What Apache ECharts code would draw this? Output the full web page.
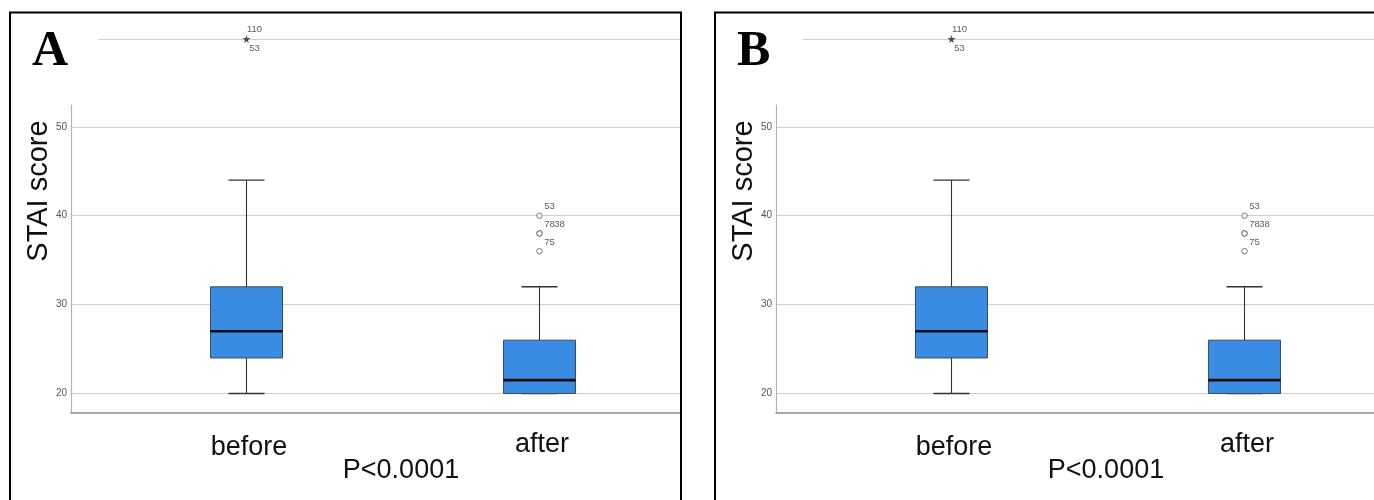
<!DOCTYPE html>
<html><head><meta charset="utf-8">
<script src="https://cdn.jsdelivr.net/npm/echarts@6/dist/echarts.min.js"></script>
<style>html,body{margin:0;padding:0;background:#fff}#c{width:1374px;height:500px}</style>
</head><body><div id="c"></div>
<script>
// ---- data ----
const categories = ['before', 'after'];
const whiskerLow = [20, 20];
const q1 = [24, 20];
const median = [27, 21.5];
const q3 = [32, 26];
const whiskerHigh = [44, 32];
const outlierCategory = [1, 1, 1, 1];
const outlierValues = [40, 38, 38, 36];
const outlierIds = ['53', '78', '38', '75'];
const extremeCategory = [0];
const extremeValues = [110];
const extremeIds = [['110', '53']];
const yTicks = [20, 30, 40, 50];
const panelLetters = ['A', 'B'];
const pValueText = 'P<0.0001';
const yAxisTitle = 'STAI score';

// ---- build ----
const FONT = 'Liberation Sans';
const chart = echarts.init(document.getElementById('c'), null, {renderer: 'canvas'});
const grid = [], xAxis = [], yAxis = [], series = [], graphic = [];
const offsets = [0, 705];

const boxData = categories.map((c, i) => [i, whiskerLow[i], q1[i], median[i], q3[i], whiskerHigh[i]]);
const labelPads = [[3, 0, 0, 5], [0, 0, 0, 5]];

function renderBox(params, api) {
  const i = api.value(0);
  const lo = api.coord([i, api.value(1)]);
  const b1 = api.coord([i, api.value(2)]);
  const md = api.coord([i, api.value(3)]);
  const b3 = api.coord([i, api.value(4)]);
  const hi = api.coord([i, api.value(5)]);
  const band = Math.abs(api.coord([1, 0])[0] - api.coord([0, 0])[0]);
  const bw = band * 0.246;
  const cw = bw * 0.5;
  const x = lo[0];
  const ws = {stroke: '#333', lineWidth: 1.1};
  return {type: 'group', children: [
    {type: 'line', shape: {x1: x, y1: hi[1], x2: x, y2: b3[1]}, style: ws},
    {type: 'line', shape: {x1: x, y1: b1[1], x2: x, y2: lo[1]}, style: ws},
    {type: 'line', shape: {x1: x - cw / 2, y1: hi[1], x2: x + cw / 2, y2: hi[1]}, style: {stroke: '#333', lineWidth: 1.4}},
    {type: 'line', shape: {x1: x - cw / 2, y1: lo[1], x2: x + cw / 2, y2: lo[1]}, style: {stroke: '#333', lineWidth: 1.4}},
    {type: 'rect', shape: {x: x - bw / 2, y: b3[1], width: bw, height: b1[1] - b3[1]}, style: {fill: '#3a8ce2', stroke: '#3d4a58', lineWidth: 1}},
    {type: 'line', shape: {x1: x - bw / 2, y1: md[1], x2: x + bw / 2, y2: md[1]}, style: {stroke: '#0a0a14', lineWidth: 2.6}}
  ]};
}

const starPath = 'path://M50,0 L61,35 L98,35 L68,57 L79,91 L50,70 L21,91 L32,57 L2,35 L39,35 Z';

offsets.forEach((dx, p) => {
  const g0 = grid.length;
  grid.push({left: 71 + dx, top: 105, width: 609, height: 308});
  grid.push({left: 71 + dx, top: 37.9, width: 609, height: 444.5});
  grid.push({left: 246.5 + dx, top: 37.9, width: 293, height: 444.5});
  grid.push({left: 98 + dx, top: 29, width: 582, height: 20});
  grid.push({left: 246.5 + dx, top: 29, width: 293, height: 20});

  xAxis.push({gridIndex: g0, type: 'category', data: categories,
    axisLine: {show: true, lineStyle: {color: '#8c8c8c', width: 1.5}},
    axisTick: {show: false}, axisLabel: {show: false}, splitLine: {show: false}});
  yAxis.push({gridIndex: g0, type: 'value', min: 0, max: 1,
    axisLine: {show: true, onZero: false, lineStyle: {color: '#b4b4b4', width: 1.2}},
    axisTick: {show: false}, axisLabel: {show: false}, splitLine: {show: false}});

  xAxis.push({gridIndex: g0 + 1, type: 'category', data: categories, show: false});
  yAxis.push({gridIndex: g0 + 1, type: 'value', min: 10, max: 60, interval: 10,
    axisLine: {show: false}, axisTick: {show: false},
    axisLabel: {formatter: v => yTicks.includes(v) ? String(v) : '', fontSize: 10, color: '#555', fontFamily: FONT, margin: 4,
      showMinLabel: false, showMaxLabel: false},
    splitLine: {show: true, showMinLine: false, showMaxLine: false, lineStyle: {color: '#cfcfcf', width: 1.2}}});

  xAxis.push({gridIndex: g0 + 2, type: 'category', boundaryGap: false, offset: -53,
    data: categories.map((c, i) => ({value: c, textStyle: {padding: labelPads[i]}})),
    axisLine: {show: false}, axisTick: {show: false}, splitLine: {show: false},
    axisLabel: {fontSize: 27, color: '#111', fontFamily: FONT, margin: 2}});
  yAxis.push({gridIndex: g0 + 2, type: 'value', min: 10, max: 60, show: false});

  xAxis.push({gridIndex: g0 + 3, type: 'category', data: categories, show: false});
  yAxis.push({gridIndex: g0 + 3, type: 'value', min: 100, max: 120, interval: 10,
    axisLine: {show: false}, axisTick: {show: false}, axisLabel: {show: false},
    splitLine: {show: true, showMinLine: false, showMaxLine: false, lineStyle: {color: '#cfcfcf', width: 1.2}}});

  xAxis.push({gridIndex: g0 + 4, type: 'category', data: categories, boundaryGap: false, show: false});
  yAxis.push({gridIndex: g0 + 4, type: 'value', min: 100, max: 120, show: false});

  series.push({type: 'custom', xAxisIndex: g0 + 2, yAxisIndex: g0 + 2, data: boxData, clip: false,
    renderItem: renderBox, encode: {x: 0, y: [1, 2, 3, 4, 5]}, silent: true});

  const seen = {};
  series.push({type: 'scatter', xAxisIndex: g0 + 2, yAxisIndex: g0 + 2, symbol: 'circle', symbolSize: 5.5,
    itemStyle: {color: '#fff', borderColor: '#555', borderWidth: 1}, silent: true,
    data: outlierValues.map((v, i) => {
      const k = outlierCategory[i] + ':' + v;
      const n = seen[k] || 0; seen[k] = n + 1;
      return {value: [outlierCategory[i], v],
        label: {show: true, position: 'right', distance: 1.5, offset: [n * 10, -9], formatter: outlierIds[i],
          fontSize: 9.5, color: '#333', fontFamily: FONT}};
    })});

  series.push({type: 'scatter', xAxisIndex: g0 + 4, yAxisIndex: g0 + 4, symbol: starPath, symbolSize: 8,
    itemStyle: {color: '#222'}, silent: true,
    data: extremeValues.map((v, i) => ({value: [extremeCategory[i], v],
      label: {show: true, position: 'inside', offset: [8, 0], formatter: extremeIds[i].join('\n\n'),
        fontSize: 9.5, lineHeight: 9.5, color: '#333', fontFamily: FONT}}))});

  graphic.push({type: 'rect', shape: {x: 10 + dx, y: 12.5, width: 671, height: 600},
    style: {fill: 'none', stroke: '#000', lineWidth: 2}, z: 100});
  graphic.push({type: 'text', x: 38.5 + dx, y: 191, rotation: Math.PI / 2,
    style: {text: yAxisTitle, fontSize: 29, fontFamily: FONT, fill: '#111', align: 'center', verticalAlign: 'middle'}});
  graphic.push({type: 'text', x: 32 + dx, y: 52,
    style: {text: panelLetters[p], fontSize: 50, fontWeight: 'bold', fontFamily: 'Liberation Serif', fill: '#000', align: 'left', verticalAlign: 'middle'}});
  graphic.push({type: 'text', x: 401 + dx, y: 471,
    style: {text: pValueText, fontSize: 27, fontFamily: FONT, fill: '#111', align: 'center', verticalAlign: 'middle'}});
});

chart.setOption({animation: false, backgroundColor: '#fff', grid, xAxis, yAxis, series, graphic});
</script></body></html>
